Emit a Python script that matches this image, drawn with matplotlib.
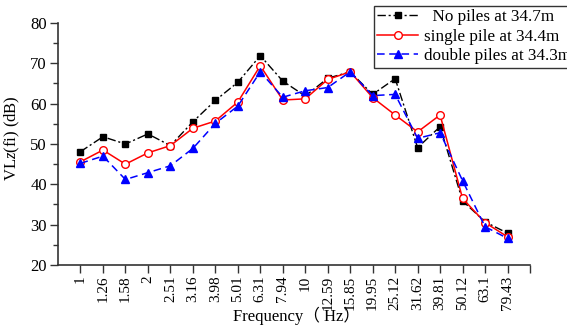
import matplotlib
matplotlib.use("Agg")
import matplotlib.pyplot as plt
from matplotlib.ticker import MultipleLocator

freqs = ["1", "1.26", "1.58", "2", "2.51", "3.16", "3.98", "5.01", "6.31", "7.94",
         "10", "12.59", "15.85", "19.95", "25.12", "31.62", "39.81", "50.12", "63.1", "79.43"]
no_piles = [48.1, 51.8, 50.0, 52.5, 49.6, 55.5, 60.8, 65.3, 71.9, 65.6,
            61.9, 66.3, 67.9, 62.3, 66.2, 49.1, 54.3, 35.9, 30.7, 27.9]
single_pile = [45.6, 48.5, 45.0, 47.8, 49.6, 53.9, 55.7, 60.4, 69.4, 60.9,
               61.2, 66.0, 67.9, 61.5, 57.2, 53.0, 57.2, 36.5, 30.5, 27.0]
double_piles = [45.2, 47.0, 41.2, 42.9, 44.6, 48.9, 55.1, 59.4, 67.9, 61.6,
                63.2, 64.0, 67.9, 62.0, 62.3, 51.4, 52.8, 40.9, 29.5, 26.6]
labels = ["  No piles at 34.7m", "single pile at 34.4m", "double piles at 34.3m"]

plt.rcParams['font.family'] = ['Liberation Serif', 'Noto Sans CJK SC']
plt.rcParams['mathtext.fontset'] = 'custom'
plt.rcParams['mathtext.it'] = 'Liberation Serif:italic'
plt.rcParams['mathtext.rm'] = 'Liberation Serif'

fig = plt.figure(figsize=(5.67, 3.25), dpi=100)
ax = fig.add_axes([58/567, 1-265/325, (530-58)/567, (265-23)/325])

x = list(range(len(freqs)))
ax.plot(x, no_piles, color='black', linestyle=(0, (6, 2, 1.5, 2)), lw=1,
        marker='s', markersize=5, label=labels[0])
ax.plot(x, single_pile, color='red', linestyle='-', lw=1.1,
        marker='o', markersize=5.5, markerfacecolor='white', markeredgecolor='red',
        label=labels[1])
ax.plot(x, double_piles, color='blue', linestyle=(0, (5, 3)), lw=1.1,
        marker='^', markersize=6, label=labels[2])

ax.set_xlim(-1, 20)
ax.set_ylim(20, 80)
ax.set_xticks(list(range(21)))
ax.set_xticklabels(freqs + [""], rotation=90, fontsize=11)
ax.yaxis.set_major_locator(MultipleLocator(10))
ax.yaxis.set_minor_locator(MultipleLocator(5))
ax.tick_params(axis='y', labelsize=12, direction='out', length=6, width=1, pad=2,
               colors='#333333', labelcolor='black')
ax.tick_params(axis='y', which='minor', direction='out', length=3.5, width=1, colors='#333333')
ax.tick_params(axis='x', direction='out', length=6, width=1, pad=1.5,
               colors='#333333', labelcolor='black')
for s in ['top', 'right']:
    ax.spines[s].set_visible(False)
for s in ['left', 'bottom']:
    ax.spines[s].set_color('#333333')
    ax.spines[s].set_linewidth(1.2)

ax.set_ylabel("VL$z$(fi) (dB)", fontsize=12)
ax.yaxis.set_label_coords(-36/472, (265-138)/242)
ax.set_xlabel("Frequency（ Hz）", fontsize=12, va='top')
ax.xaxis.set_label_coords(0.505, -42/242)

leg = fig.legend(loc='upper left', bbox_to_anchor=(374/567, 1-6/325), fontsize=12.3,
                 frameon=True, fancybox=False, edgecolor='#333333', framealpha=1,
                 handlelength=2.4, handletextpad=0.3, borderpad=0.2, labelspacing=0.2,
                 borderaxespad=0)
leg.get_frame().set_linewidth(1)

fig.savefig("out.png", dpi=100)
